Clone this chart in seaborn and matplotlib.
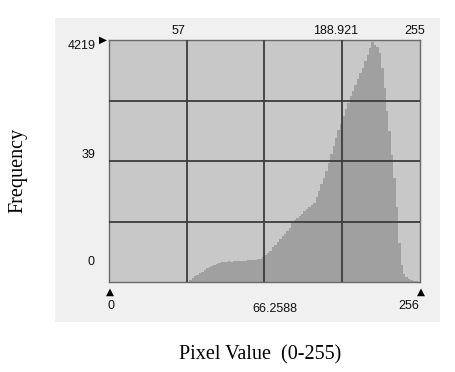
import numpy as np
import matplotlib
matplotlib.use("Agg")
import matplotlib.pyplot as plt
import seaborn as sns

# ---- data ----
bin_width = 2
bin_starts = list(range(66, 256, bin_width))
counts = [34, 63, 97, 127, 152, 177, 207, 240, 257, 278,
          291, 312, 333, 346, 354, 350, 359, 354, 359, 363,
          367, 363, 371, 371, 375, 384, 384, 388, 397, 409,
          439, 464, 498, 548, 603, 646, 696, 743, 802, 844,
          894, 945, 1034, 1089, 1118, 1148, 1194, 1236, 1278, 1299,
          1342, 1375, 1477, 1582, 1704, 1814, 1941, 2067, 2223, 2363,
          2510, 2645, 2763, 2890, 3017, 3122, 3240, 3333, 3438, 3544,
          3637, 3734, 3860, 3966, 4071, 4177, 4135, 4092, 3987, 3734,
          3375, 2974, 2637, 2215, 1814, 1308, 675, 295, 148, 84,
          51, 34, 21, 13, 8]
y_max = 4219
top_labels = ["57", "188.921", "255"]
bottom_labels = ["0", "66.2588", "256"]
left_labels = ["4219", "39", "0"]

W, H = 456, 372
fig = plt.figure(figsize=(W / 100, H / 100), dpi=100)
fig.patch.set_facecolor("white")

def fx(px):
    return px / W

def fy(py):
    return 1 - py / H

# outer light panel (background axes)
bg = fig.add_axes([fx(55), fy(322), (440 - 55) / W, (322 - 18) / H])
bg.set_facecolor("#f0f0f0")
bg.set_xticks([])
bg.set_yticks([])
for s in bg.spines.values():
    s.set_visible(False)
bg.set_zorder(0)

ax = fig.add_axes([fx(109), fy(282), (420 - 109) / W, (282 - 40) / H])
ax.set_zorder(1)
ax.set_facecolor("#c8c8c8")

centers = [b + bin_width / 2 for b in bin_starts]
edges = list(bin_starts) + [bin_starts[-1] + bin_width]
sns.histplot(x=centers, weights=counts, bins=edges, element="step", fill=True,
             color="#a0a0a0", alpha=1, linewidth=0, ax=ax)

ax.set_xlim(0, 256)
ax.set_ylim(0, y_max * 1.0)
ax.set_xticks([64, 128, 192])
ax.set_yticks([y_max * 0.25, y_max * 0.5, y_max * 0.75])
ax.set_xticklabels([])
ax.set_yticklabels([])
ax.tick_params(length=0)
ax.set_xlabel("")
ax.set_ylabel("")
ax.set_axisbelow(False)
ax.grid(True, color="#3c3c3c", linewidth=1.3)
for s in ax.spines.values():
    s.set_color("#6a6a6a")
    s.set_linewidth(1.0)

tick_font = dict(family="Liberation Sans", fontsize=9, color="#111111")
# top labels
fig.text(fx(178), fy(31), top_labels[0], ha="center", va="center", **tick_font)
fig.text(fx(336), fy(31), top_labels[1], ha="center", va="center", **tick_font)
fig.text(fx(415), fy(31), top_labels[2], ha="center", va="center", **tick_font)
# bottom labels
fig.text(fx(111), fy(306), bottom_labels[0], ha="center", va="center", **tick_font)
fig.text(fx(275), fy(309), bottom_labels[1], ha="center", va="center", **tick_font)
fig.text(fx(409), fy(306), bottom_labels[2], ha="center", va="center", **tick_font)
# left labels
fig.text(fx(96), fy(46), left_labels[0], ha="right", va="center", **tick_font)
fig.text(fx(95), fy(155), left_labels[1], ha="right", va="center", **tick_font)
fig.text(fx(95), fy(262), left_labels[2], ha="right", va="center", **tick_font)
# markers
fig.text(fx(103), fy(40), "\u25B6", ha="center", va="center", fontsize=7.5, color="black",
         family="DejaVu Sans")
fig.text(fx(110), fy(292), "\u25B2", ha="center", va="center", fontsize=7.5, color="black",
         family="DejaVu Sans")
fig.text(fx(421), fy(292), "\u25B2", ha="center", va="center", fontsize=7.5, color="black",
         family="DejaVu Sans")

# axis titles
fig.text(fx(18), fy(170), "Frequency", rotation=90, ha="center", va="center",
         family="Liberation Serif", fontsize=14.5, color="black")
fig.text(fx(260), fy(355), "Pixel Value  (0-255)", ha="center", va="center",
         family="Liberation Serif", fontsize=14.5, color="black")

fig.savefig("out.png", dpi=100)
